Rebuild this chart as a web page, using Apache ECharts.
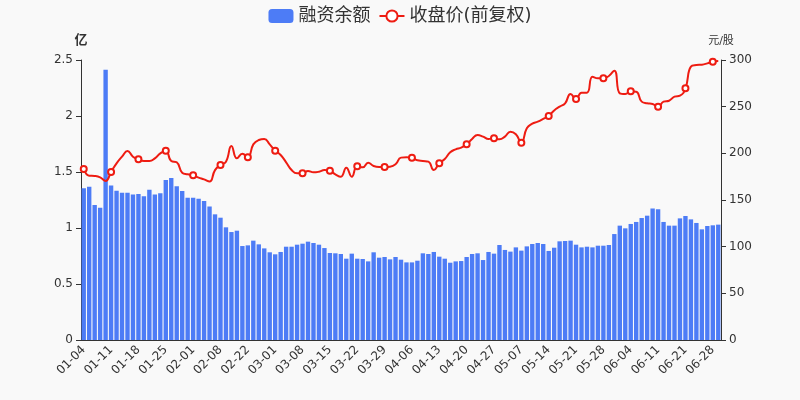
<!DOCTYPE html>
<html>
<head>
<meta charset="utf-8">
<script src="https://cdn.jsdelivr.net/npm/echarts@6/dist/echarts.min.js"></script>
<style>html,body{margin:0;padding:0;background:#f9f9f9;}#c{width:800px;height:400px;}</style>
</head>
<body>
<div id="c"></div>
<script>
var dates = ['01-04','01-05','01-06','01-07','01-08','01-11','01-12','01-13','01-14','01-15',
'01-18','01-19','01-20','01-21','01-22','01-25','01-26','01-27','01-28','01-29',
'02-01','02-02','02-03','02-04','02-05','02-08','02-09','02-10','02-18','02-19',
'02-22','02-23','02-24','02-25','02-26','03-01','03-02','03-03','03-04','03-05',
'03-08','03-09','03-10','03-11','03-12','03-15','03-16','03-17','03-18','03-19',
'03-22','03-23','03-24','03-25','03-26','03-29','03-30','03-31','04-01','04-02',
'04-06','04-07','04-08','04-09','04-12','04-13','04-14','04-15','04-16','04-19',
'04-20','04-21','04-22','04-23','04-26','04-27','04-28','04-29','04-30','05-06',
'05-07','05-10','05-11','05-12','05-13','05-14','05-17','05-18','05-19','05-20',
'05-21','05-24','05-25','05-26','05-27','05-28','05-31','06-01','06-02','06-03',
'06-04','06-07','06-08','06-09','06-10','06-11','06-15','06-16','06-17','06-18',
'06-21','06-22','06-23','06-24','06-25','06-28','06-29'];

var margin = [1.354,1.369,1.205,1.18,2.414,1.38,1.333,1.315,1.315,1.298,
1.304,1.283,1.342,1.298,1.31,1.429,1.446,1.372,1.33,1.271,
1.271,1.262,1.241,1.193,1.122,1.092,1.006,0.964,0.976,0.839,
0.845,0.887,0.854,0.818,0.783,0.765,0.786,0.833,0.833,0.851,
0.86,0.878,0.866,0.851,0.821,0.777,0.774,0.768,0.726,0.771,
0.726,0.723,0.702,0.783,0.735,0.741,0.72,0.741,0.717,0.693,
0.693,0.708,0.774,0.768,0.786,0.744,0.726,0.69,0.702,0.705,
0.741,0.768,0.774,0.714,0.786,0.771,0.848,0.804,0.789,0.827,
0.798,0.836,0.857,0.866,0.857,0.795,0.824,0.881,0.884,0.887,
0.851,0.827,0.833,0.827,0.842,0.842,0.848,0.946,1.021,0.997,
1.036,1.054,1.089,1.11,1.173,1.167,1.054,1.021,1.021,1.086,
1.107,1.077,1.045,0.988,1.018,1.024,1.03];

var price = [183.2,176,175.7,174.3,170.4,180,189.3,196.4,202.5,196.4,
193.6,191.8,191.8,194.6,200,202.9,191.8,190.4,179.3,177.5,
176.4,174,172.1,169.7,182,187.5,191,207.9,194.6,199.6,
195.7,209.6,214.3,215.4,209.6,202.9,198.2,190.4,182.1,178.6,
178.6,181,179.6,180.3,182.1,181.4,177.5,175,184.6,175,
186.1,185,190,186.4,185.4,185.4,185.7,188.2,195.4,195.7,
195.4,192.5,191.8,191.1,182.1,189.3,193.9,201.1,204.3,206.1,
209.6,215.4,219.6,217.9,215.4,216.1,215,217.9,223.2,220.4,
211.4,226.8,231.8,233.9,236.8,240,246,250,253.6,263.6,
258.2,265,265,282,280.4,280.4,282.9,288.6,264.3,263.6,
266.4,266.1,255.4,253.6,252.9,250,255.4,256.4,260.7,261.8,
269.6,292.9,294.6,295,296.4,298.2,298.9];

var leftTicks = {min: 0, max: 2.5, interval: 0.5};
var rightTicks = {min: 0, max: 300, interval: 50};

var chart = echarts.init(document.getElementById('c'));
chart.setOption({
  backgroundColor: '#f9f9f9',
  animation: false,
  textStyle: {fontFamily: 'DejaVu Sans, Noto Sans CJK SC, sans-serif'},
  legend: {
    top: 2,
    left: 'center',
    itemWidth: 25,
    itemHeight: 14,
    textStyle: {fontSize: 18, color: '#333'},
    data: ['融资余额', '收盘价(前复权)']
  },
  grid: {left: 81, right: 79, top: 60, bottom: 60},
  xAxis: {
    type: 'category',
    data: dates,
    axisLine: {lineStyle: {color: '#333'}},
    axisTick: {lineStyle: {color: '#333'}},
    axisLabel: {rotate: 45, interval: 4, color: '#333', fontSize: 12}
  },
  yAxis: [{
    type: 'value',
    name: '亿',
    nameGap: 13,
    nameTextStyle: {fontWeight: 'bold', color: '#333', fontSize: 13},
    min: leftTicks.min, max: leftTicks.max, interval: leftTicks.interval,
    splitLine: {show: false},
    axisLine: {show: true, lineStyle: {color: '#333'}},
    axisTick: {show: true, lineStyle: {color: '#333'}},
    axisLabel: {color: '#333', fontSize: 12}
  }, {
    type: 'value',
    name: '元/股',
    nameGap: 13,
    nameTextStyle: {color: '#333', fontSize: 11},
    min: rightTicks.min, max: rightTicks.max, interval: rightTicks.interval,
    splitLine: {show: false},
    axisLine: {show: true, lineStyle: {color: '#333'}},
    axisTick: {show: true, lineStyle: {color: '#333'}},
    axisLabel: {color: '#333', fontSize: 12}
  }],
  series: [{
    name: '融资余额',
    type: 'bar',
    data: margin,
    barWidth: '80%',
    itemStyle: {color: '#4d7cf6'}
  }, {
    name: '收盘价(前复权)',
    type: 'line',
    yAxisIndex: 1,
    data: price,
    smooth: true,
    symbol: 'emptyCircle',
    symbolSize: 6,
    lineStyle: {color: '#ee1c12', width: 2},
    itemStyle: {color: '#ee1c12', borderWidth: 1}
  }]
});
</script>
</body>
</html>
